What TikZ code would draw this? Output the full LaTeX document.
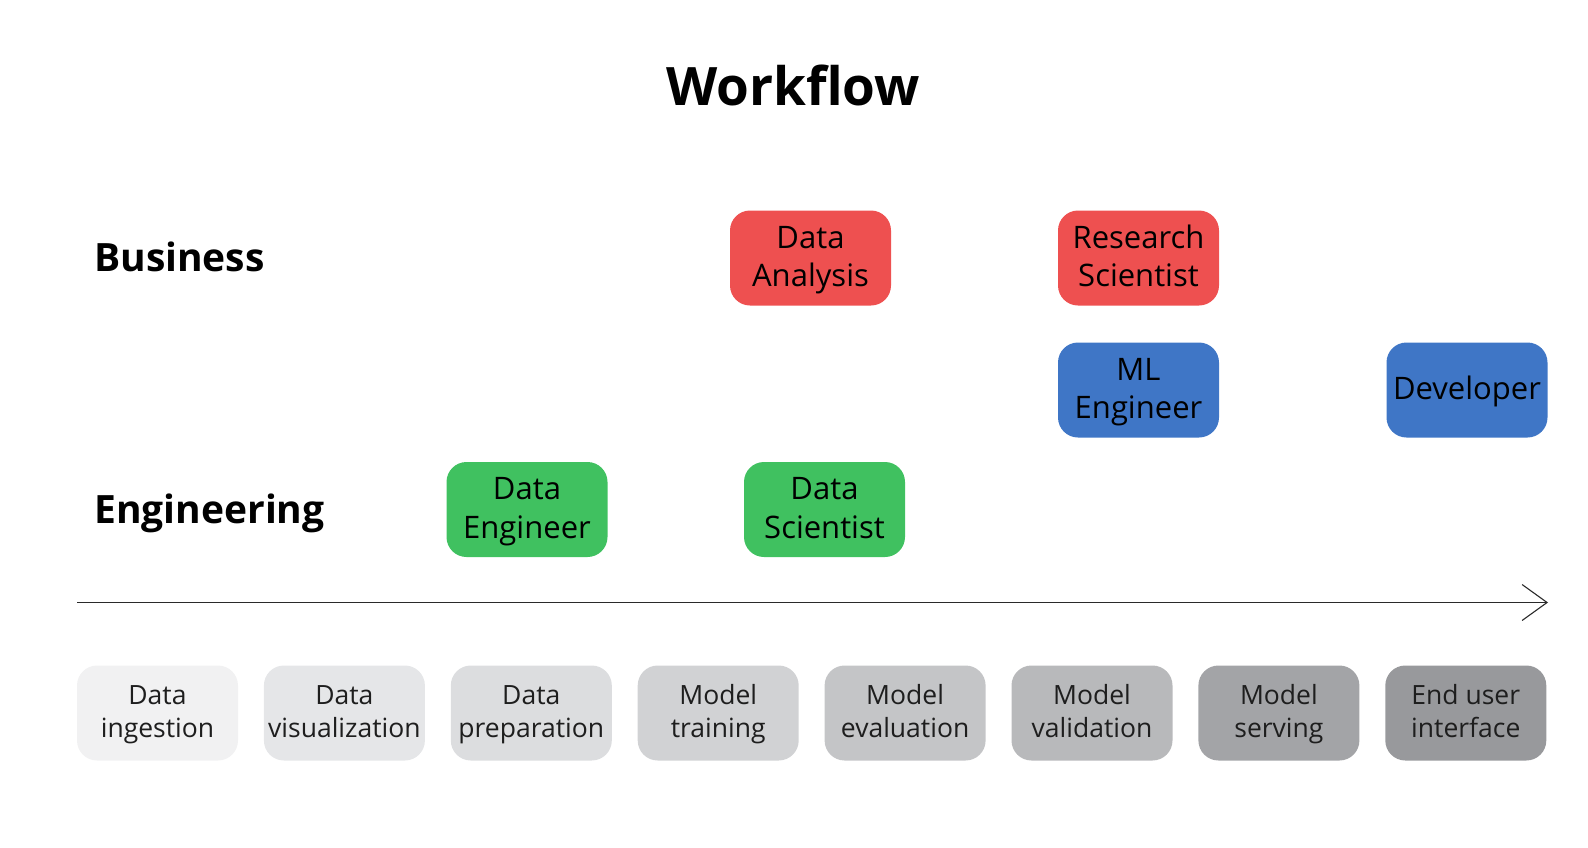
\documentclass[tikz,border=0pt]{standalone}
\usepackage{fontspec}
\setmainfont{Open Sans}
\usetikzlibrary{arrows.meta}

\definecolor{rolered}{HTML}{EE5050}
\definecolor{roleblue}{HTML}{3F76C6}
\definecolor{rolegreen}{HTML}{40C160}
\definecolor{stageA}{HTML}{F1F1F2}
\definecolor{stageB}{HTML}{E5E6E8}
\definecolor{stageC}{HTML}{DCDDDF}
\definecolor{stageD}{HTML}{D1D2D4}
\definecolor{stageE}{HTML}{C4C5C7}
\definecolor{stageF}{HTML}{B8B9BB}
\definecolor{stageG}{HTML}{A3A4A7}
\definecolor{stageH}{HTML}{98999C}
\definecolor{stagetext}{HTML}{1E1E1E}
\definecolor{axiscol}{HTML}{2A2A2A}

% invisible struts so every box text sits at the same baselines
\newcommand\roletop{\rule{0pt}{29pt}}
\newcommand\rolebot{\rule[-10.5pt]{0pt}{10.5pt}}
\newcommand\stagetop{\rule{0pt}{24pt}}
\newcommand\stagebot{\rule[-8.5pt]{0pt}{8.5pt}}

\tikzset{
  rolebox/.style={rectangle, rounded corners=20pt, minimum width=161pt,
    minimum height=95pt, inner sep=0pt, align=center, text=black,
    font=\fontsize{31}{38.5}\selectfont},
  stagebox/.style={rectangle, rounded corners=20pt, minimum width=161pt,
    minimum height=95pt, inner sep=0pt, align=center, text=stagetext,
    font=\fontsize{26.5}{33.5}\selectfont},
  lanelabel/.style={anchor=base west, inner sep=0pt,
    font=\fontsize{39}{45}\selectfont\bfseries},
  axis/.style={draw=axiscol, line width=1.1pt,
    -{Straight Barb[length=25pt, width=36pt, line width=1.1pt]}}
}

\begin{document}
\begin{tikzpicture}[x=1pt, y=-1pt]
  \useasboundingbox (0,0) rectangle (1588,847);

  % title
  \node[anchor=base, inner sep=0pt, font=\fontsize{53}{60}\selectfont\bfseries]
    (title) at (793,105) {Workflow};

  % lane labels
  \node[lanelabel] (business) at (94,271) {Business};
  \node[lanelabel] (engineering) at (94,523) {Engineering};

  % roles
  \node[rolebox, fill=rolered]   (analysis)   at (810.5,258)   {\roletop Data\\Analysis\rolebot};
  \node[rolebox, fill=rolered]   (research)   at (1138.5,258)  {\roletop Research\\Scientist\rolebot};
  \node[rolebox, fill=roleblue]  (mlengineer) at (1138.5,390)  {\roletop ML\\Engineer\rolebot};
  \node[rolebox, fill=roleblue]  (developer)  at (1467,390)    {\roletop Developer\rolebot};
  \node[rolebox, fill=rolegreen] (dataeng)    at (527,509.5)   {\roletop Data\\Engineer\rolebot};
  \node[rolebox, fill=rolegreen] (datasci)    at (824.5,509.5) {\roletop Data\\Scientist\rolebot};

  % time axis
  \coordinate (axisL) at (77,602.5);
  \coordinate (axisR) at (1548,602.5);
  \draw[axis] (axisL) -- (axisR);

  % pipeline stages
  \node[stagebox, fill=stageA] (s1) at (157.5,713)  {\stagetop Data\\ingestion\stagebot};
  \node[stagebox, fill=stageB] (s2) at (344.4,713)  {\stagetop Data\\visualization\stagebot};
  \node[stagebox, fill=stageC] (s3) at (531.3,713)  {\stagetop Data\\preparation\stagebot};
  \node[stagebox, fill=stageD] (s4) at (718.2,713)  {\stagetop Model\\training\stagebot};
  \node[stagebox, fill=stageE] (s5) at (905.1,713)  {\stagetop Model\\evaluation\stagebot};
  \node[stagebox, fill=stageF] (s6) at (1092,713)   {\stagetop Model\\validation\stagebot};
  \node[stagebox, fill=stageG] (s7) at (1278.9,713) {\stagetop Model\\serving\stagebot};
  \node[stagebox, fill=stageH] (s8) at (1465.8,713) {\stagetop End user\\interface\stagebot};
\end{tikzpicture}
\end{document}
